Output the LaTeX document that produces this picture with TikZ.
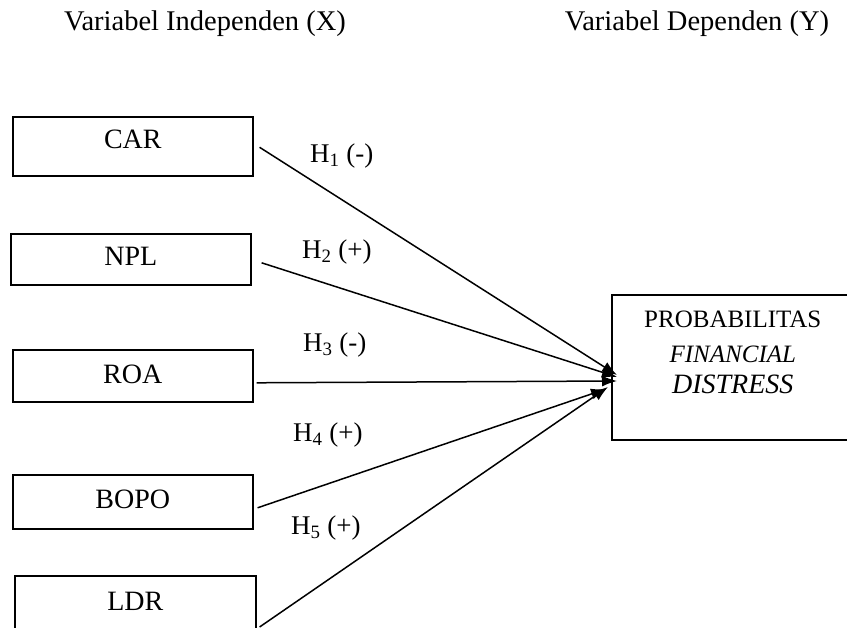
\documentclass[tikz,border=0pt]{standalone}
\usepackage{fontspec}
\setmainfont{Liberation Serif}
\usetikzlibrary{arrows.meta}
\begin{document}
\begin{tikzpicture}[x=1pt,y=-1pt,
  varbox/.style={draw, line width=1.6pt, inner sep=0pt, anchor=north west,
    minimum width=240pt, font=\fontsize{28}{32}\selectfont},
  head/.style={anchor=base, inner sep=0pt, font=\fontsize{28.5}{32}\selectfont},
  hyp/.style={anchor=base west, inner sep=0pt, font=\fontsize{27}{30}\selectfont},
  link/.style={line width=1.5pt, -{Latex[length=15pt,width=11pt]}}]
\useasboundingbox (0,0) rectangle (847,628);

% headers
\node[head] (hx) at (205,31) {Variabel Independen (X)};
\node[head] (hy) at (697,31) {Variabel Dependen (Y)};

% independent variables
\node[varbox, text height=32pt, text depth=27pt] (car)  at (12,116) {CAR};
\node[varbox, text height=32pt, text depth=19pt] (npl)  at (10,233) {NPL};
\node[varbox, text height=34pt, text depth=18pt] (roa)  at (12,349) {ROA};
\node[varbox, text height=34pt, text depth=20pt] (bopo) at (12,474) {BOPO};
\node[varbox, text height=35pt, text depth=30pt, minimum width=241pt] (ldr) at (14,575) {LDR};

% dependent variable
\node[draw, line width=1.6pt, inner sep=0pt, anchor=north west] (prob) at (611,294)
 {\vbox to 145pt{\hsize=242pt \baselineskip=0pt \lineskip=0pt \lineskiplimit=0pt
   \hbox to\hsize{\hss\vrule height 33pt depth 0pt width 0pt\smash{\fontsize{25}{30}\selectfont PROBABILITAS}\hss}
   \hbox to\hsize{\hss\vrule height 35pt depth 0pt width 0pt\smash{\fontsize{25}{30}\selectfont\itshape FINANCIAL}\hss}
   \hbox to\hsize{\hss\vrule height 31pt depth 0pt width 0pt\smash{\fontsize{28}{32}\selectfont\itshape DISTRESS}\hss}
   \vfill}};

% arrow tips
\coordinate (t1) at (617,375);
\coordinate (t2) at (617,377);
\coordinate (t3) at (617,381);
\coordinate (t4) at (606,389);
\coordinate (t5) at (608,387);

\draw[link] ([xshift=6pt,yshift=-1pt]car.east) -- (t1);
\draw[link] ([xshift=10pt,yshift=-3.5pt]npl.east) -- (t2);
\draw[link] ([xshift=3pt,yshift=-7pt]roa.east) -- (t3);
\draw[link] ([xshift=4pt,yshift=-6pt]bopo.east) -- (t4);
\draw[link] (ldr.east |- 0,627) ++(3pt,0) coordinate (l5) (l5) -- (t5);

% hypothesis labels
\node[hyp] (h1) at (310,163) {H\textsubscript{1} (-)};
\node[hyp] (h2) at (302,259) {H\textsubscript{2} (+)};
\node[hyp] (h3) at (303,352) {H\textsubscript{3} (-)};
\node[hyp] (h4) at (293,442) {H\textsubscript{4} (+)};
\node[hyp] (h5) at (291,535) {H\textsubscript{5} (+)};
\end{tikzpicture}
\end{document}
